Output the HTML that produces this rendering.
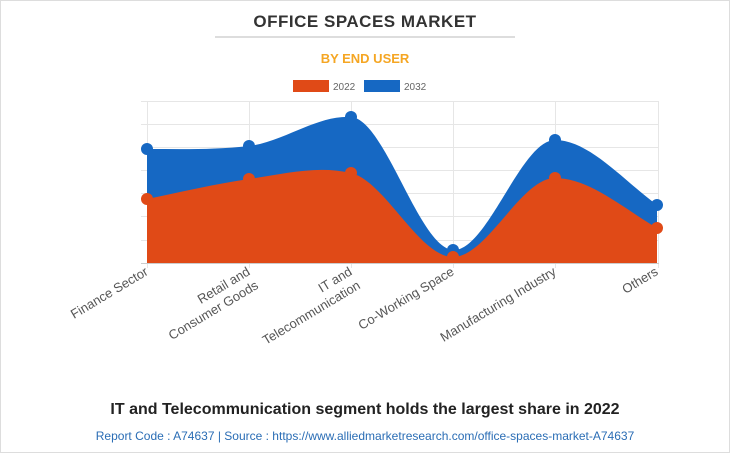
<!DOCTYPE html>
<html><head><meta charset="utf-8"><style>
body{margin:0;background:#fff;}
.wrap{width:728px;height:451px;border:1px solid #ddd;background:#fff;position:relative;font-family:"Liberation Sans",sans-serif;}
</style></head><body><div class="wrap">
<svg width="730" height="453" viewBox="0 0 730 453" style="position:absolute;left:-1px;top:-1px" font-family="Liberation Sans, sans-serif">
<text x="365" y="27" text-anchor="middle" font-size="17" font-weight="bold" fill="#333" letter-spacing="0.5">OFFICE SPACES MARKET</text>
<line x1="215" y1="37" x2="515" y2="37" stroke="#bbb" stroke-width="1"/>
<text x="365" y="63" text-anchor="middle" font-size="13" font-weight="bold" fill="#f5a623">BY END USER</text>
<rect x="293" y="80" width="36" height="12" fill="#e04a17"/>
<text x="333" y="90" font-size="10" fill="#666">2022</text>
<rect x="364" y="80" width="36" height="12" fill="#1668c3"/>
<text x="404" y="90" font-size="10" fill="#666">2032</text>
<g stroke="#e6e6e6" stroke-width="1">
<line x1="141" y1="101.5" x2="659" y2="101.5"/><line x1="141" y1="124.5" x2="659" y2="124.5"/>
<line x1="141" y1="147.5" x2="659" y2="147.5"/><line x1="141" y1="170.5" x2="659" y2="170.5"/>
<line x1="141" y1="193.5" x2="659" y2="193.5"/><line x1="141" y1="216.5" x2="659" y2="216.5"/>
<line x1="141" y1="240.5" x2="659" y2="240.5"/>
<line x1="147.5" y1="101" x2="147.5" y2="268"/><line x1="249.5" y1="101" x2="249.5" y2="268"/>
<line x1="351.5" y1="101" x2="351.5" y2="268"/><line x1="453.5" y1="101" x2="453.5" y2="268"/>
<line x1="555.5" y1="101" x2="555.5" y2="268"/><line x1="658.5" y1="101" x2="658.5" y2="268"/>
</g>
<path fill="#1668c3" d="M147,149 C181,149 215,150 249,146 C283,142 317,115 351,117 C385,119 419,248 453,250 C487,252 521,140 555,140 C589,140 623,180 657,205 L657,263 L147,263 Z"/>
<path fill="#e04a17" d="M147,199 C181,192 215,184 249,179 C283,174 317,165 351,173 C385,181 419,257 453,257 C487,257 521,178 555,178 C589,178 623,208 657,228 L657,263 L147,263 Z"/>
<line x1="141" y1="263.5" x2="659" y2="263.5" stroke="#ccc"/>
<g fill="#1668c3"><circle cx="147" cy="149" r="6"/><circle cx="249" cy="146" r="6"/><circle cx="351" cy="117" r="6"/><circle cx="453" cy="250" r="6"/><circle cx="555" cy="140" r="6"/><circle cx="657" cy="205" r="6"/></g>
<g fill="#e04a17"><circle cx="147" cy="199" r="6"/><circle cx="249" cy="179" r="6"/><circle cx="351" cy="173" r="6"/><circle cx="453" cy="257" r="6"/><circle cx="555" cy="178" r="6"/><circle cx="657" cy="228" r="6"/></g>
<g font-size="13" fill="#555" text-anchor="end">
<text transform="translate(149,274) rotate(-31)">Finance Sector</text>
<text transform="translate(251,274) rotate(-31)">Retail and<tspan x="0" dy="16">Consumer Goods</tspan></text>
<text transform="translate(353,274) rotate(-31)">IT and<tspan x="0" dy="16">Telecommunication</tspan></text>
<text transform="translate(455,274) rotate(-31)">Co-Working Space</text>
<text transform="translate(557,274) rotate(-31)">Manufacturing Industry</text>
<text transform="translate(659,274) rotate(-31)">Others</text>
</g>
<text x="365" y="414" text-anchor="middle" font-size="16" font-weight="bold" fill="#222">IT and Telecommunication segment holds the largest share in 2022</text>
<text x="365" y="440" text-anchor="middle" font-size="12" fill="#2a6db5">Report Code : A74637  |  Source : https://www.alliedmarketresearch.com/office-spaces-market-A74637</text>
</svg></div></body></html>
